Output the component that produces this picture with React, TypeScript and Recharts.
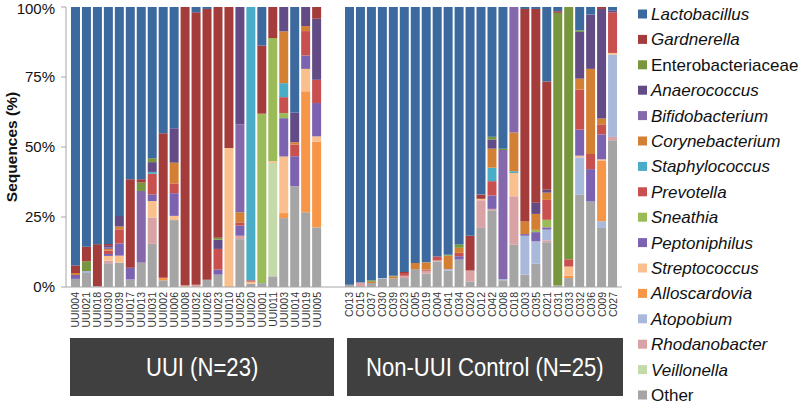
import React from 'react';
import { BarChart, Bar, XAxis, YAxis } from 'recharts';

// ---- categories ----
const uuiSamples = ['UUI004','UUI021','UUI018','UUI030','UUI039','UUI017','UUI013','UUI031','UUI002','UUI006','UUI008','UUI032','UUI026','UUI023','UUI010','UUI025','UUI020','UUI001','UUI011','UUI003','UUI014','UUI019','UUI005'];
const controlSamples = ['C013','C015','C037','C030','C039','C023','C005','C019','C004','C041','C034','C020','C012','C042','C008','C018','C003','C035','C021','C031','C033','C032','C036','C009','C027'];
const groupLabels = ['UUI (N=23)', 'Non-UUI Control (N=25)'];
const yTicks = [0, 25, 50, 75, 100];

// ---- series values (%): 23 UUI samples, then 25 control samples ----
const lactobacillus = [
  92.3,85.6,84.7,84.6,74.6,61.5,61.5,54.0,45.1,43.3,0,1.9,0.7,0,0,0,0,13.8,0,0,37.8,0,0,
  99.2,98.4,97.6,96.8,96.0,94.6,91.4,91.2,89.1,88.5,84.8,81.7,67.0,46.3,50.6,0,0.7,0.7,26.6,1.5,0,8.4,2.7,0,1.2];
const gardnerella = [
  2.7,5.2,15.0,0.7,0,31.6,1.2,0,51.6,0,99.5,97.3,96.7,82.4,50.4,0,0,24.3,11.1,0,0,0,4.2,
  0,0,0,0,0,0.4,0,0,0,0,0,12.4,1.5,0,0,0,75.9,69.2,38.7,0.6,0,0,0,0.7,0];
const enterobacteriaceae = [
  0,3.5,0,0,0,0,3.0,1.4,0,0,0,0,0,0.7,0,0,0,0,0,0,0,0,0,
  0,0,0.5,0,0.2,0,0,0,0,0.3,1.2,0,0,1.0,0.5,0,0,0,0,97.4,90.1,0.5,0,0,0];
const anaerococcus = [
  0,0,0,0.6,3.8,0,0,3.5,0,12.3,0,0,0,3.3,0,42.0,0,0,0,8.7,10.5,6.8,21.8,
  0,0,0,0,0,0,0,0,0,0,0,0,0,3.3,0,0,0,4.0,1.0,0,0,16.7,19.4,39.1,0.7];
const bifidobacterium = [
  0,0,0,0.5,0,0,25.6,0,0,0,0,0,0,0,0,31.3,0,0,0,0,0,0,0,
  0,0,0,0,0,0,0,0,0,0,0,0,0,0,46.0,44.8,0,0,0,0,0,0,0,0,0];
const corynebacterium = [
  0.7,0,0,0.6,1.0,0,0,0,0,7.4,0,0,0,0,0,3.6,0,0,0,18.5,0.8,1.8,0,
  0,0,0.5,0,0.7,0,2.2,2.6,0,4.8,1.8,0,0,6.8,0,13.9,4.5,5.7,2.6,0,0,3.9,30.4,2.1,0];
const staphylococcus = [
  0,0,0,0,0,0,0,0.7,0,0,0,0,0,0,0,0,97.6,0,0,5.0,0,0,0,
  0,0,0,0,0,0,0,0,0,0,0,0,0,4.8,0,0.6,0,0,0,0,0,0,0,0,0];
const prevotella = [
  0,0,0,1.2,5.0,0,0,7.3,0,3.5,0,0,0,7.4,0,1.2,0.5,0,0,5.7,4.2,8.7,8.3,
  0,0,0,0,0,1.0,0,0.4,1.4,0,1.2,0,0,5.1,0,0,0,0,7.1,0,2.6,14.3,5.4,3.6,14.5];
const sneathia = [
  0,0,0,0,0,0,0,0,0,0,0,0,0,0,0,0,0,60.5,44.0,1.8,0,0,0,
  0,0,0,0,0,0,0,0,0,0,0,0,0,0,0,0,0,0.8,2.7,0,0,0,0,0,0];
const peptoniphilus = [
  1.4,0,0,0.7,4.4,4.2,0,2.4,0,8.1,0,0,0,1.8,0,3.6,0,0,0,13.7,10.7,4.8,11.9,
  0,0,0,0,0,0,0,0,0,0,1.2,0,0,4.8,0,0,0.6,3.3,0.8,0,0,9.3,11.5,8.9,0];
const streptococcus = [
  0,0,0,1.7,2.5,0,0,5.9,0,1.5,0.5,0,0,0,49.6,0,0.7,0,0.6,20.2,0,8.0,1.8,
  0,0,0,0,0,0,0,0,0,0,0,0,0.5,0,0,8.3,0,0,0,0,3.3,0.6,0,0.4,0.6];
const alloscardovia = [
  0,0,0,0,0,0,0,0,0.9,0,0,0,0,0,0,0,0,0,0,1.8,0,43.2,30.7,
  0,0,0,0,0,0,0,0,0,0,0,0,0,0,0,0,0,0,0,0,0.8,0,0,21.7,0];
const atopobium = [
  0,0.7,0,0,0,0,0,0,0,0,0,0,0,0,0,0,0,0,0,0,0,0,0,
  0,0,0,0.3,0,0,0,0,0,0.5,0,0,0,0,0.5,0,13.9,8.0,3.8,0,0,13.3,0,2.4,29.4];
const rhodanobacter = [
  0,0,0,0.9,0,0,0,9.4,0,0,0,0.8,0,0,0,1.2,0,0,0,0,0,0,0,
  0,1.3,0,0,0,0.8,0,1.0,0.4,0,0,3.9,9.9,0.5,0,17.3,0,0,0.7,0,0,0,0,0,1.2];
const veillonella = [
  0,0,0,0,0,0,0,0,0,0,0,0,0,0,0,0,0,0,40.5,0,0,0,0,
  0,0,0,0,0,0,0,0,0,0,0,0,0,0,0,0,0,0,0,0,0,0,0,0,0];
const other = [
  2.9,5.0,0.3,8.5,8.7,2.7,8.7,15.4,2.4,23.9,0,0,2.6,4.4,0,17.1,1.2,1.4,3.8,24.6,36.0,26.7,21.3,
  0.8,0.3,1.4,2.9,3.1,3.2,6.4,4.8,9.1,5.9,9.8,2.0,21.1,27.4,2.4,15.1,4.4,8.3,16.0,0.5,3.2,33.0,30.6,21.1,52.4];

// legend order (top to bottom); stacking is the reverse
const taxa = [
  { key: 'lactobacillus', label: 'Lactobacillus', italic: true, color: '#3D6A9E', values: lactobacillus },
  { key: 'gardnerella', label: 'Gardnerella', italic: true, color: '#A53C3C', values: gardnerella },
  { key: 'enterobacteriaceae', label: 'Enterobacteriaceae', italic: false, color: '#77963D', values: enterobacteriaceae },
  { key: 'anaerococcus', label: 'Anaerococcus', italic: true, color: '#634C85', values: anaerococcus },
  { key: 'bifidobacterium', label: 'Bifidobacterium', italic: true, color: '#8567AC', values: bifidobacterium },
  { key: 'corynebacterium', label: 'Corynebacterium', italic: true, color: '#D48034', values: corynebacterium },
  { key: 'staphylococcus', label: 'Staphylococcus', italic: true, color: '#4AACC7', values: staphylococcus },
  { key: 'prevotella', label: 'Prevotella', italic: true, color: '#C8504F', values: prevotella },
  { key: 'sneathia', label: 'Sneathia', italic: true, color: '#9BBB59', values: sneathia },
  { key: 'peptoniphilus', label: 'Peptoniphilus', italic: true, color: '#7C63B2', values: peptoniphilus },
  { key: 'streptococcus', label: 'Streptococcus', italic: true, color: '#F9C08E', values: streptococcus },
  { key: 'alloscardovia', label: 'Alloscardovia', italic: true, color: '#F79646', values: alloscardovia },
  { key: 'atopobium', label: 'Atopobium', italic: true, color: '#A8B9DB', values: atopobium },
  { key: 'rhodanobacter', label: 'Rhodanobacter', italic: true, color: '#D9A3A5', values: rhodanobacter },
  { key: 'veillonella', label: 'Veillonella', italic: true, color: '#C5DAA9', values: veillonella },
  { key: 'other', label: 'Other', italic: false, color: '#A5A5A5', values: other },
];

const valueNames = [...uuiSamples, ...controlSamples];
const categories = [...uuiSamples, 'gap-1', 'gap-2', ...controlSamples];
const data = categories.map((name) => {
  const row: Record<string, any> = { name };
  const k = valueNames.indexOf(name);
  if (k >= 0) taxa.forEach((t) => { row[t.key] = t.values[k]; });
  return row;
});

const FONT = '"Liberation Sans", Arial, sans-serif';

const SampleTick = (props: any) => {
  const { x, y, payload } = props;
  if (String(payload.value).startsWith('gap')) return <g />;
  return (
    <text
      transform={`translate(${x + 4},${y}) rotate(-90)`}
      textAnchor="end"
      fontSize={10.5}
      fontFamily={FONT}
      fill="#333"
    >
      {payload.value}
    </text>
  );
};

const PctTick = (props: any) => {
  const { x, y, payload } = props;
  return (
    <text x={x} y={y + 5} textAnchor="end" fontSize={15} fontFamily={FONT} fill="#111">
      {`${payload.value}%`}
    </text>
  );
};

export default function App() {
  const stackOrder = [...taxa].reverse();
  return (
    <div style={{ position: 'fixed', left: 0, top: 0, width: 799, height: 405, background: '#fff', overflow: 'hidden' }}>
      <BarChart
        width={799}
        height={405}
        data={data}
        margin={{ top: 7, right: 177, bottom: 0, left: 0 }}
        barCategoryGap={1}
      >
        <XAxis
          dataKey="name"
          interval={0}
          tickLine={false}
          tickSize={0}
          tickMargin={5}
          height={118}
          padding={{ left: 4, right: 4 }}
          axisLine={{ stroke: '#A6A6A6' }}
          tick={<SampleTick />}
        />
        <YAxis
          width={66}
          domain={[0, 100]}
          ticks={yTicks}
          allowDataOverflow
          tickSize={5}
          tickMargin={6}
          axisLine={{ stroke: '#A6A6A6' }}
          tickLine={{ stroke: '#A6A6A6' }}
          tick={<PctTick />}
        />
        {stackOrder.map((t) => (
          <Bar key={t.key} dataKey={t.key} stackId="a" fill={t.color} isAnimationActive={false} />
        ))}
      </BarChart>

      <svg width={799} height={405} style={{ position: 'absolute', left: 0, top: 0, pointerEvents: 'none' }}>
        <text
          transform="translate(17,147) rotate(-90)"
          textAnchor="middle"
          fontSize={15.5}
          fontWeight="bold"
          fontFamily={FONT}
          fill="#111"
        >
          Sequences (%)
        </text>
        {taxa.map((t, i) => {
          const cy = 14 + i * 25.4;
          return (
            <g key={t.key}>
              <rect x={638} y={cy - 4.5} width={9} height={9} fill={t.color} />
              <text
                x={651}
                y={cy + 6}
                fontSize={17}
                fontStyle={t.italic ? 'italic' : 'normal'}
                fontFamily={FONT}
                fill="#111"
              >
                {t.label}
              </text>
            </g>
          );
        })}
      </svg>

      {[{ left: 70, width: 264 }, { left: 347, width: 276 }].map((b, i) => (
        <div
          key={i}
          style={{
            position: 'absolute',
            left: b.left,
            top: 338,
            width: b.width,
            height: 58,
            background: '#404040',
            display: 'flex',
            alignItems: 'center',
            justifyContent: 'center',
            color: '#fff',
            fontFamily: FONT,
            fontSize: 26,
            whiteSpace: 'nowrap',
          }}
        >
          <span style={{ display: 'inline-block', transform: 'scaleX(0.85)' }}>{groupLabels[i]}</span>
        </div>
      ))}
    </div>
  );
}
